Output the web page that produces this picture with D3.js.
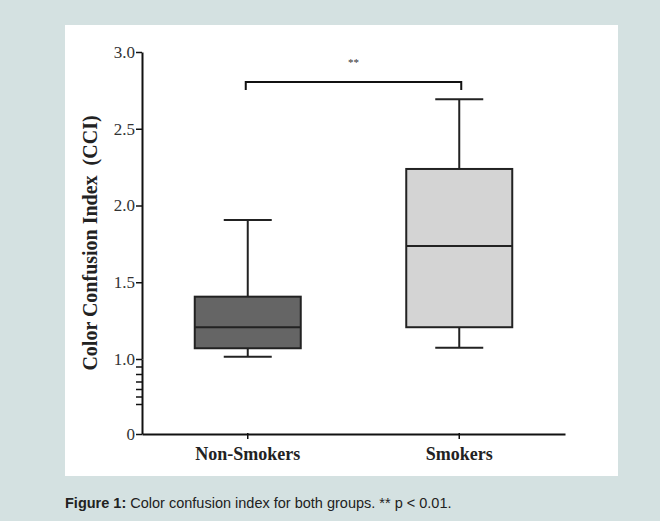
<!DOCTYPE html>
<meta charset="utf-8">
<style>
body { margin: 0; background: #d4e1e1; }
svg { display: block; }
.tick text { font-family: "Liberation Serif", "Times New Roman", serif; }
</style>
<svg width="660" height="521"></svg>
<script src="https://d3js.org/d3.v7.min.js"></script>
<script>

// data
var groups = ["Non-Smokers", "Smokers"];
var mins    = [1.015, 1.074];
var q1s     = [1.070, 1.207];
var medians = [1.207, 1.736];
var q3s     = [1.406, 2.238];
var maxs    = [1.906, 2.692];
var fills   = ["#656565", "#d4d4d4"];
var yTicks  = [1.0, 1.5, 2.0, 2.5, 3.0];
var minorTicks = [0.9, 0.8, 0.7, 0.6, 0.5, 0.4];

var svg = d3.select("svg");

// white panel
svg.append("rect")
  .attr("x", 65).attr("y", 25)
  .attr("width", 553).attr("height", 451)
  .attr("fill", "#fff");

var x = d3.scaleBand().domain(groups).range([142, 565]);
// upper segment of the axis (1 to 3) and compressed lower segment (0 to 1)
var y = d3.scaleLinear().domain([1, 3]).range([359, 52]);
var yLow = d3.scaleLinear().domain([0, 1]).range([434, 359]);

// y axis: upper part
var gy = svg.append("g")
  .attr("transform", "translate(142,0)")
  .call(d3.axisLeft(y).tickValues(yTicks).tickFormat(d3.format(".1f")).tickSize(6).tickSizeOuter(0));
// lower part
var gyl = svg.append("g")
  .attr("transform", "translate(142,0)")
  .call(d3.axisLeft(yLow).tickValues([0]).tickFormat(d3.format("d")).tickSize(6).tickSizeOuter(0));
var gym = svg.append("g")
  .attr("transform", "translate(142,0)")
  .call(d3.axisLeft(yLow).tickValues(minorTicks).tickFormat("").tickSize(6).tickSizeOuter(0));

[gy, gyl, gym].forEach(function(g) {
  g.selectAll("path.domain").attr("stroke", "#111").attr("stroke-width", 2);
  g.selectAll(".tick line").attr("stroke", "#111").attr("stroke-width", 1.5);
  g.selectAll(".tick text")
    .attr("font-size", 17).attr("fill", "#333").attr("x", -7);
});
gym.select("path.domain").remove();

// x axis
var gx = svg.append("g")
  .attr("transform", "translate(0,434)")
  .call(d3.axisBottom(x).tickSize(5).tickSizeOuter(0));
gx.select("path.domain").attr("stroke", "#111").attr("stroke-width", 2);
gx.selectAll(".tick line").attr("stroke", "#111").attr("stroke-width", 1.5).attr("y1", -1);
gx.selectAll(".tick text")
  .attr("font-size", 18).attr("font-weight", "bold").attr("fill", "#222")
  .attr("y", 13);

// axis title
svg.append("text")
  .attr("transform", "translate(97,243) rotate(-90)")
  .attr("text-anchor", "middle")
  .attr("font-family", "Liberation Serif, Times New Roman, serif")
  .attr("font-size", 20).attr("font-weight", "bold").attr("fill", "#222")
  .attr("xml:space", "preserve")
  .text("Color Confusion Index  (CCI)");

// boxes
var boxW = 106, capW = 48;
groups.forEach(function(g, i) {
  var cx = x(g) + x.bandwidth() / 2;
  var b = svg.append("g").attr("stroke", "#222").attr("stroke-width", 2);
  b.append("line").attr("x1", cx).attr("x2", cx).attr("y1", y(maxs[i])).attr("y2", y(q3s[i]));
  b.append("line").attr("x1", cx).attr("x2", cx).attr("y1", y(q1s[i])).attr("y2", y(mins[i]));
  b.append("line").attr("x1", cx - capW / 2).attr("x2", cx + capW / 2).attr("y1", y(maxs[i])).attr("y2", y(maxs[i]));
  b.append("line").attr("x1", cx - capW / 2).attr("x2", cx + capW / 2).attr("y1", y(mins[i])).attr("y2", y(mins[i]));
  b.append("rect")
    .attr("x", cx - boxW / 2).attr("width", boxW)
    .attr("y", y(q3s[i])).attr("height", y(q1s[i]) - y(q3s[i]))
    .attr("fill", fills[i]);
  b.append("line").attr("x1", cx - boxW / 2).attr("x2", cx + boxW / 2).attr("y1", y(medians[i])).attr("y2", y(medians[i]));
});

// significance bracket
var bx1 = x(groups[0]) + x.bandwidth() / 2 - 2, bx2 = x(groups[1]) + x.bandwidth() / 2 + 2;
svg.append("path")
  .attr("d", "M" + bx1 + ",90V82H" + bx2 + "V90")
  .attr("fill", "none").attr("stroke", "#111").attr("stroke-width", 2);
svg.append("text")
  .attr("x", (bx1 + bx2) / 2).attr("y", 66)
  .attr("text-anchor", "middle")
  .attr("font-family", "Liberation Serif, serif")
  .attr("font-size", 11).attr("fill", "#333")
  .text("**");

// caption
var cap = svg.append("text")
  .attr("x", 65).attr("y", 508)
  .attr("font-family", "Liberation Sans, Arial, sans-serif")
  .attr("font-size", 14.5).attr("fill", "#222");
cap.append("tspan").attr("font-weight", "bold").text("Figure 1:");
cap.append("tspan").text(" Color confusion index for both groups. ** p < 0.01.");

</script>
